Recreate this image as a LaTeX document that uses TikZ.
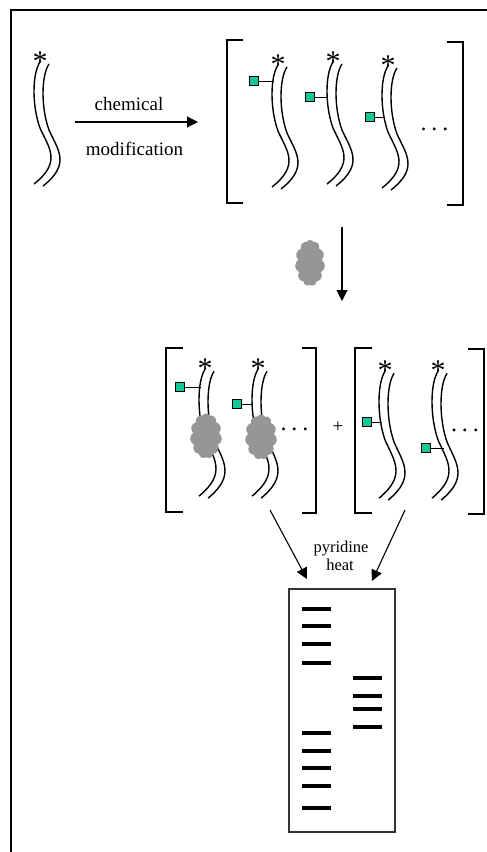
\documentclass[tikz,border=0pt]{standalone}
\usepackage{fontspec}
\setmainfont{Liberation Serif}
\usetikzlibrary{arrows.meta,shapes.symbols}

\definecolor{tagteal}{RGB}{20,200,150}
\definecolor{clumpgray}{RGB}{150,150,150}

\tikzset{
  strandline/.style={line width=1.4pt},
  bracketline/.style={line width=2pt},
  tagbox/.style={draw, fill=tagteal, minimum size=9.5pt, inner sep=0pt, line width=1pt},
  clump/.style={cloud, cloud puffs=11, cloud puff arc=120, cloud ignores aspect,
    fill=clumpgray, minimum width=30pt, minimum height=46pt, inner sep=0pt},
  starmark/.style={inner sep=0pt, anchor=base, font=\fontsize{30}{30}\selectfont},
  dotsnode/.style={inner sep=0pt, anchor=base, font=\fontsize{24}{24}\selectfont},
  reagent/.style={inner sep=0pt, anchor=base, font=\fontsize{19}{19}\selectfont},
  smallreagent/.style={reagent, font=\fontsize{16.5}{16.5}\selectfont},
  reaction/.style={line width=1.1pt, -{Triangle[length=11pt,width=11pt]}},
  gelbox/.style={draw=black!80, line width=1.3pt, minimum width=106pt, minimum height=243pt, inner sep=0pt},
  band/.style={line width=3.2pt},
  % labelled strand: star on top, two wavy backbones below
  pics/strand/.style={code={
    \node[starmark] (-star) at (0,15) {*};
    \foreach \dx/\dy in {0/0,9/2}
      \draw[strandline, shift={(\dx,\dy)}] (0,6) .. controls (-8,18) and (-8,50) .. (0,72)
        .. controls (9,92) and (22,106) .. (-6,128);
  }},
}

\begin{document}
\begin{tikzpicture}[x=1pt, y=-1pt]
  \useasboundingbox (0,0) rectangle (487,852);
  \draw[line width=1.1pt] (11,852) -- (11,10) -- (487,10);

  % chemical modification step
  \pic (free) at (40,56) {strand};
  \coordinate (modstart) at (75,122);
  \coordinate (modend) at (198,122);
  \draw[reaction] (modstart) -- (modend);
  \node[reagent] (chem) at (129,110) {chemical};
  \node[reagent] (modif) at (134.5,155) {modification};

  % pool of modified strands
  \draw[bracketline] (243,40) -- (227,40) -- (227,203) -- (243,203);
  \draw[bracketline] (447,42) -- (463,42) -- (463,205) -- (447,205);
  \pic (m1) at (278,59) {strand};
  \pic (m2) at (333,56) {strand};
  \pic (m3) at (388,60) {strand};
  \foreach \n/\sx/\hx/\y in {1/254/273.5/81, 2/310/327.5/97, 3/370/384.5/117} {
    \node[tagbox] (mtag\n) at (\sx,\y) {};
    \coordinate (mhook\n) at (\hx,\y);
    \draw[line width=1pt] (mtag\n.east) -- (mhook\n);
  }
  \node[dotsnode] (mdots) at (434.5,130) {.\hspace{5pt}.\hspace{5pt}.};

  % protein binding
  \node[clump] (enzyme) at (310,263) {};
  \coordinate (bindstart) at (342,227);
  \coordinate (bindend) at (342,301);
  \draw[reaction] (bindstart) -- (bindend);

  % bound pool
  \draw[bracketline] (183,348) -- (166,348) -- (166,512) -- (183,512);
  \draw[bracketline] (302,348) -- (316,348) -- (316,513) -- (302,513);
  \pic[yscale=1.04] (b1) at (205,363) {strand};
  \pic[yscale=1.04] (b2) at (258,363) {strand};
  \foreach \n/\sx/\hx/\y in {1/180/200.5/387, 2/237/253/404} {
    \node[tagbox] (btag\n) at (\sx,\y) {};
    \coordinate (bhook\n) at (\hx,\y);
    \draw[line width=1pt] (btag\n.east) -- (bhook\n);
  }
  \node[clump, minimum width=32pt, minimum height=45pt] (bclump1) at (206,436) {};
  \node[clump, minimum width=32pt, minimum height=45pt] (bclump2) at (261,437) {};
  \node[dotsnode] (bdots) at (294.5,430.5) {.\hspace{5pt}.\hspace{5pt}.};

  \node[font=\fontsize{19}{19}\selectfont, inner sep=0pt] (plus) at (338,427) {+};

  % free pool
  \draw[bracketline] (372,348) -- (355,348) -- (355,513) -- (372,513);
  \draw[bracketline] (468,349) -- (484,349) -- (484,514) -- (468,514);
  \pic[yscale=1.04] (u1) at (385,365) {strand};
  \pic[yscale=1.04] (u2) at (438,365) {strand};
  \foreach \n/\sx/\hx/\y in {1/367/382/422, 2/426/444/448} {
    \node[tagbox] (utag\n) at (\sx,\y) {};
    \coordinate (uhook\n) at (\hx,\y);
    \draw[line width=1pt] (utag\n.east) -- (uhook\n);
  }
  \node[dotsnode] (udots) at (465,431.5) {.\hspace{5pt}.\hspace{5pt}.};

  % cleavage and gel
  \coordinate (boundout) at (270,510);
  \coordinate (freeout) at (405,510);
  \coordinate (lanein) at (307,579);
  \coordinate (freein) at (372,581);
  \draw[reaction] (boundout) -- (lanein);
  \draw[reaction] (freeout) -- (freein);
  \node[smallreagent] (pyr) at (341,552.7) {pyridine};
  \node[smallreagent] (heat) at (340,570) {heat};

  \node[gelbox] (gel) at (342,710.5) {};
  \foreach \y in {609,626,644,663,733,751,768,786,808}
    \draw[band] (302,\y) -- (331,\y);
  \foreach \y in {678,696,709,727}
    \draw[band] (353,\y) -- (382,\y);
\end{tikzpicture}
\end{document}
